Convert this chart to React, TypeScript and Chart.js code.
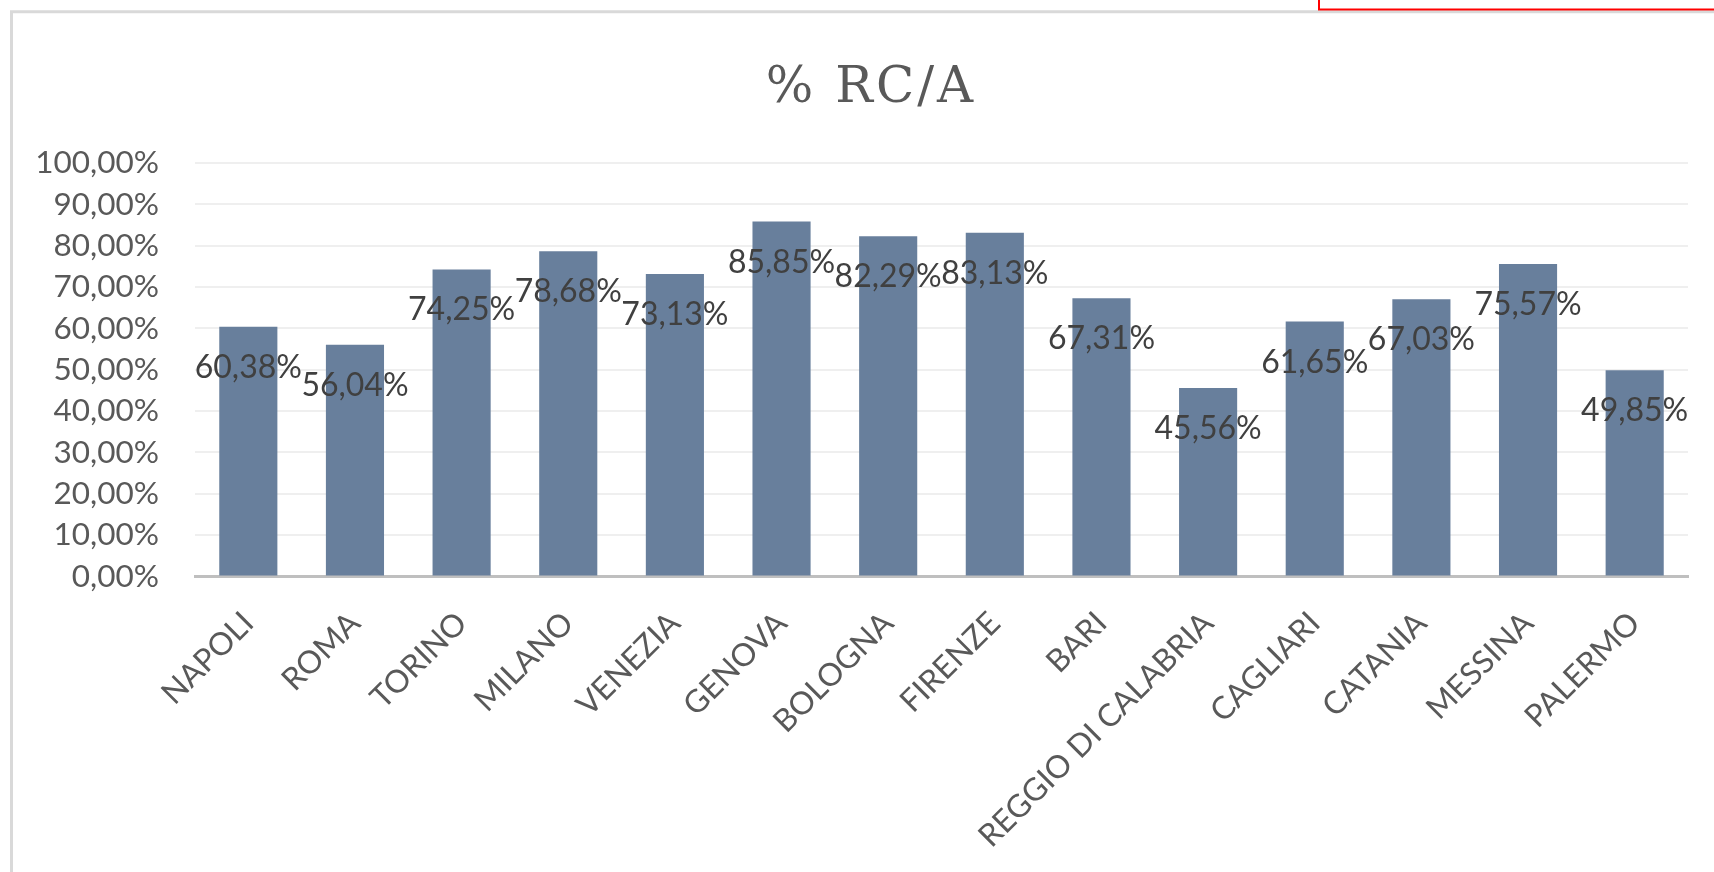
import React, { useEffect, useRef } from 'react';
import { Chart, registerables } from 'chart.js';

Chart.register(...registerables);

// Cities on the category axis
const cities = [
  'NAPOLI',
  'ROMA',
  'TORINO',
  'MILANO',
  'VENEZIA',
  'GENOVA',
  'BOLOGNA',
  'FIRENZE',
  'BARI',
  'REGGIO DI CALABRIA',
  'CAGLIARI',
  'CATANIA',
  'MESSINA',
  'PALERMO',
];

// % RC/A per city
const rcaPercent = [
  60.38, 56.04, 74.25, 78.68, 73.13, 85.85, 82.29, 83.13, 67.31, 45.56, 61.65, 67.03, 75.57, 49.85,
];

// Value axis range and step (percent)
const yMin = 0;
const yMax = 100;
const yStep = 10;

const chartTitle = '% RC/A';

const W = 1714;
const H = 872;

const BAR_COLOR = '#687f9c';
const TEXT_COLOR = '#595959';
const LABEL_COLOR = '#404040';
const SANS = 'Lato, "Open Sans", sans-serif';
const FONT_SIZE = 31.5;

function pct(v: number): string {
  return v.toFixed(2).replace('.', ',') + '%';
}

// White sheet, light frame and the red selection edge at the top right
const framePlugin = {
  id: 'sheetFrame',
  beforeDraw(chart: any) {
    const { ctx, width, height } = chart;
    ctx.save();
    ctx.fillStyle = '#ffffff';
    ctx.fillRect(0, 0, width, height);
    ctx.strokeStyle = '#d9d9d9';
    ctx.lineWidth = 3;
    ctx.beginPath();
    ctx.moveTo(11.5, height);
    ctx.lineTo(11.5, 11.8);
    ctx.lineTo(width, 11.8);
    ctx.stroke();
    ctx.strokeStyle = '#ff0000';
    ctx.lineWidth = 2;
    ctx.beginPath();
    ctx.moveTo(1319, 0);
    ctx.lineTo(1319, 9.6);
    ctx.lineTo(width, 9.6);
    ctx.stroke();
    ctx.restore();
  },
};

// Serif chart title
const titlePlugin = {
  id: 'serifTitle',
  afterDraw(chart: any) {
    const { ctx } = chart;
    ctx.save();
    ctx.fillStyle = TEXT_COLOR;
    ctx.font = '50px "DejaVu Serif", "Liberation Serif", serif';
    (ctx as any).letterSpacing = '3px';
    ctx.textAlign = 'center';
    ctx.textBaseline = 'alphabetic';
    ctx.fillText(chartTitle, 871, 102);
    ctx.restore();
  },
};

// Value labels placed just inside the top of each bar
const valueLabelPlugin = {
  id: 'valueLabels',
  afterDatasetsDraw(chart: any) {
    const { ctx } = chart;
    const meta = chart.getDatasetMeta(0);
    const values = chart.data.datasets[0].data as number[];
    ctx.save();
    ctx.fillStyle = LABEL_COLOR;
    ctx.font = `${FONT_SIZE + 0.5}px ${SANS}`;
    ctx.textAlign = 'center';
    ctx.textBaseline = 'alphabetic';
    meta.data.forEach((bar: any, i: number) => {
      ctx.fillText(pct(values[i]), bar.x, bar.y + 51);
    });
    ctx.restore();
  },
};

export default function App() {
  const canvasRef = useRef<HTMLCanvasElement | null>(null);

  useEffect(() => {
    const canvas = canvasRef.current;
    if (!canvas) return;
    const chart = new Chart(canvas, {
      type: 'bar',
      data: {
        labels: cities,
        datasets: [
          {
            label: chartTitle,
            data: rcaPercent,
            backgroundColor: BAR_COLOR,
            borderWidth: 0,
            barPercentage: 0.545,
            categoryPercentage: 1,
          },
        ],
      },
      options: {
        responsive: false,
        animation: false,
        devicePixelRatio: 1,
        layout: { padding: { top: 163, right: 26, left: 0, bottom: 0 } },
        plugins: {
          legend: { display: false },
          title: { display: false },
          tooltip: { enabled: false },
        },
        scales: {
          x: {
            grid: { display: false, drawTicks: false },
            border: { display: true, color: '#bfbfbf', width: 3 },
            ticks: {
              autoSkip: false,
              maxRotation: 45,
              minRotation: 45,
              padding: 28,
              color: TEXT_COLOR,
              font: { family: SANS, size: FONT_SIZE },
            },
            afterFit(scale: any) {
              scale.height = 295.5;
            },
          },
          y: {
            min: yMin,
            max: yMax,
            grid: {
              drawTicks: false,
              lineWidth: 2,
              color: (c: any) => (c.tick && c.tick.value === 0 ? 'rgba(0,0,0,0)' : '#efefef'),
            },
            border: { display: false },
            ticks: {
              stepSize: yStep,
              padding: 36,
              color: TEXT_COLOR,
              font: { family: SANS, size: FONT_SIZE },
              callback: (v: any) => pct(Number(v)),
            },
            afterFit(scale: any) {
              scale.width = 195;
            },
          },
        },
      },
      plugins: [framePlugin, valueLabelPlugin, titlePlugin],
    });
    return () => chart.destroy();
  }, []);

  return (
    <div style={{ position: 'fixed', left: 0, top: 0, width: W, height: H, background: '#fff' }}>
      <canvas ref={canvasRef} width={W} height={H} style={{ display: 'block', width: W, height: H }} />
    </div>
  );
}
